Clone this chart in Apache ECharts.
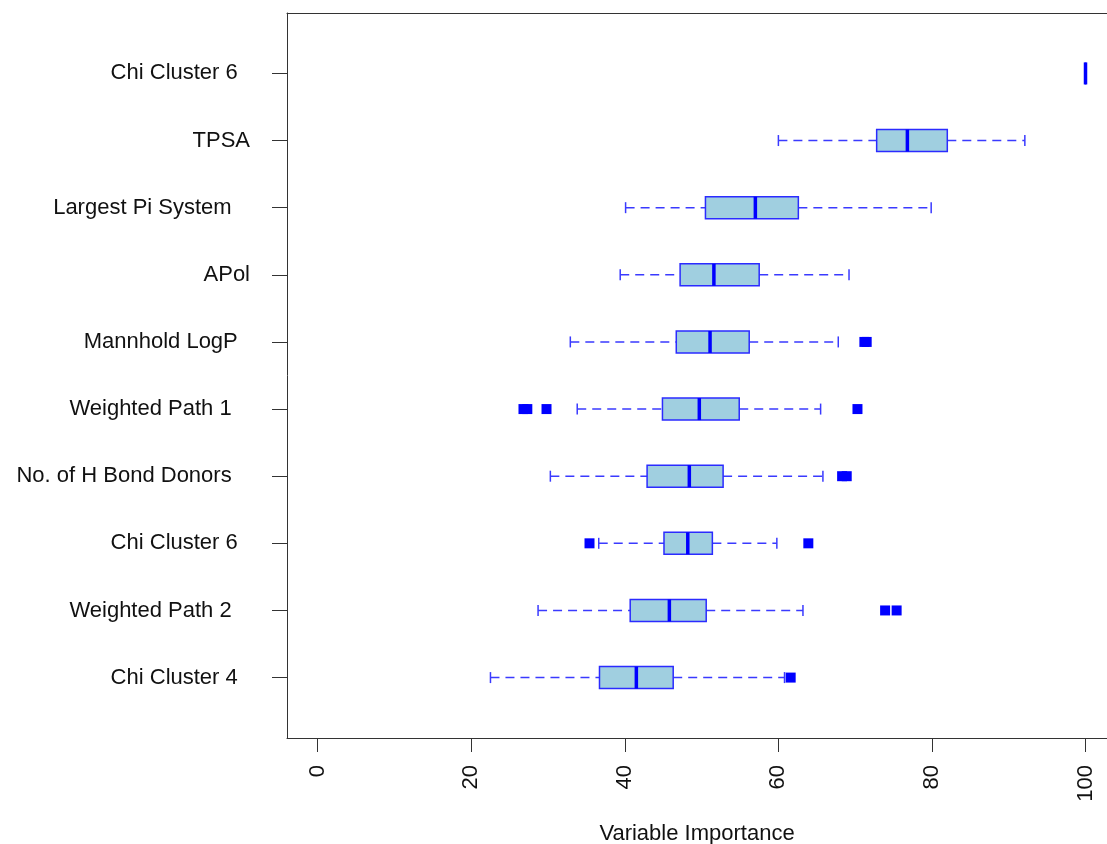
<!DOCTYPE html>
<html>
<head>
<meta charset="utf-8">
<script src="https://cdn.jsdelivr.net/npm/echarts@6/dist/echarts.min.js"></script>
<style>
html,body{margin:0;padding:0;background:#fff;}
#chart{width:1107px;height:844px;}
</style>
</head>
<body>
<div id="chart"></div>
<script>
// rows from bottom (1) to top (10), trailing spaces keep the labels' ragged right edge
var categories = ['Chi Cluster 4  ', 'Weighted Path 2   ', 'Chi Cluster 6  ', 'No. of H Bond Donors   ',
	'Weighted Path 1   ', 'Mannhold LogP  ', 'APol', 'Largest Pi System   ', 'TPSA', 'Chi Cluster 6  '];
var whiskerLow  = [22.5, 28.7, 36.6, 30.3, 33.8, 32.9, 39.4, 40.1, 60.0, 100];
var boxLow      = [36.7, 40.7, 45.1, 42.9, 44.9, 46.7, 47.2, 50.5, 72.8, 100];
var medians     = [41.5, 45.8, 48.2, 48.4, 49.7, 51.1, 51.6, 57.0, 76.8, 100];
var boxHigh     = [46.3, 50.6, 51.4, 52.8, 54.9, 56.2, 57.5, 62.6, 82.0, 100];
var whiskerHigh = [60.8, 63.2, 59.8, 65.8, 65.5, 67.8, 69.2, 79.9, 92.1, 100];
var outlierValues = [61.6, 73.9, 75.4, 35.4, 63.9, 68.3, 68.9, 26.8, 27.3, 29.8, 70.3, 71.2, 71.5];
var outlierRows   = [1, 2, 2, 3, 3, 4, 4, 5, 5, 5, 5, 6, 6];
var xTicks = [0, 20, 40, 60, 80, 100];
var yTicks = [1, 2, 3, 4, 5, 6, 7, 8, 9, 10];

var FONT = "'Liberation Sans', Arial, sans-serif";

var boxData = [];
for (var i = 0; i < categories.length; i++) {
	boxData.push([i + 1, whiskerLow[i], boxLow[i], medians[i], boxHigh[i], whiskerHigh[i]]);
}
var outlierData = [];
for (var k = 0; k < outlierValues.length; k++) {
	outlierData.push([outlierValues[k], outlierRows[k]]);
}

//箱线图
function renderBox(params, api) {
	var y = api.value(0);
	var lo = api.coord([api.value(1), y]);
	var q1 = api.coord([api.value(2), y]);
	var md = api.coord([api.value(3), y]);
	var q3 = api.coord([api.value(4), y]);
	var hi = api.coord([api.value(5), y]);
	var cy = lo[1];
	var h = 11, cap = 5.5;
	var dash = {stroke: '#3a3aff', lineWidth: 1.5, lineDash: [9, 6]};
	var solid = {stroke: '#3a3aff', lineWidth: 1.5};
	return {
		type: 'group',
		children: [
			{type: 'line', shape: {x1: lo[0], y1: cy, x2: q1[0], y2: cy}, style: dash},
			{type: 'line', shape: {x1: q3[0], y1: cy, x2: hi[0], y2: cy}, style: dash},
			{type: 'line', shape: {x1: lo[0], y1: cy - cap, x2: lo[0], y2: cy + cap}, style: solid},
			{type: 'line', shape: {x1: hi[0], y1: cy - cap, x2: hi[0], y2: cy + cap}, style: solid},
			{type: 'rect', shape: {x: q1[0], y: cy - h, width: q3[0] - q1[0], height: 2 * h},
				style: {fill: '#a0cfe0', stroke: '#2b2bff', lineWidth: 1.5}},
			{type: 'line', shape: {x1: md[0], y1: cy - h, x2: md[0], y2: cy + h},
				style: {stroke: '#0000ff', lineWidth: 3.5}}
		]
	};
}

var option = {
	animation: false,
	backgroundColor: '#fff',
	grid: {left: 287, right: 0, top: 13, bottom: 106, show: false, outerBoundsMode: 'none', containLabel: false},
	xAxis: [{
		type: 'value', min: -4, max: 102.8, position: 'bottom',
		name: 'Variable Importance', nameLocation: 'middle', nameGap: 85,
		nameTextStyle: {fontFamily: FONT, fontSize: 22, color: '#111'},
		axisLine: {show: true, onZero: false, lineStyle: {color: '#333'}},
		axisTick: {show: true, customValues: xTicks, length: 14, lineStyle: {color: '#333'}},
		axisLabel: {customValues: xTicks, rotate: 90, margin: 27, fontFamily: FONT, fontSize: 22, color: '#111'},
		splitLine: {show: false}
	}, {
		// top edge of the frame
		type: 'value', min: -4, max: 102.8, position: 'top',
		axisLine: {show: true, onZero: false, lineStyle: {color: '#333'}},
		axisTick: {show: false}, axisLabel: {show: false}, splitLine: {show: false}
	}],
	yAxis: {
		type: 'value', min: 0.1, max: 10.9,
		axisLine: {show: true, onZero: false, lineStyle: {color: '#333'}},
		axisTick: {show: true, customValues: yTicks, length: 15, lineStyle: {color: '#333'}},
		axisLabel: {
			customValues: yTicks, margin: 37, fontFamily: FONT, fontSize: 22, color: '#111',
			formatter: function (v) { return categories[Math.round(v) - 1]; }
		},
		splitLine: {show: false}
	},
	series: [
		{
			type: 'custom',
			renderItem: renderBox,
			encode: {x: [1, 2, 3, 4, 5], y: 0},
			data: boxData,
			z: 2
		},
		{
			type: 'scatter',
			symbol: 'rect',
			symbolSize: 10,
			itemStyle: {color: '#0000ff', opacity: 1},
			data: outlierData,
			z: 3
		}
	]
};

myChart = echarts.init(document.getElementById('chart'));
myChart.setOption(option);
</script>
</body>
</html>
